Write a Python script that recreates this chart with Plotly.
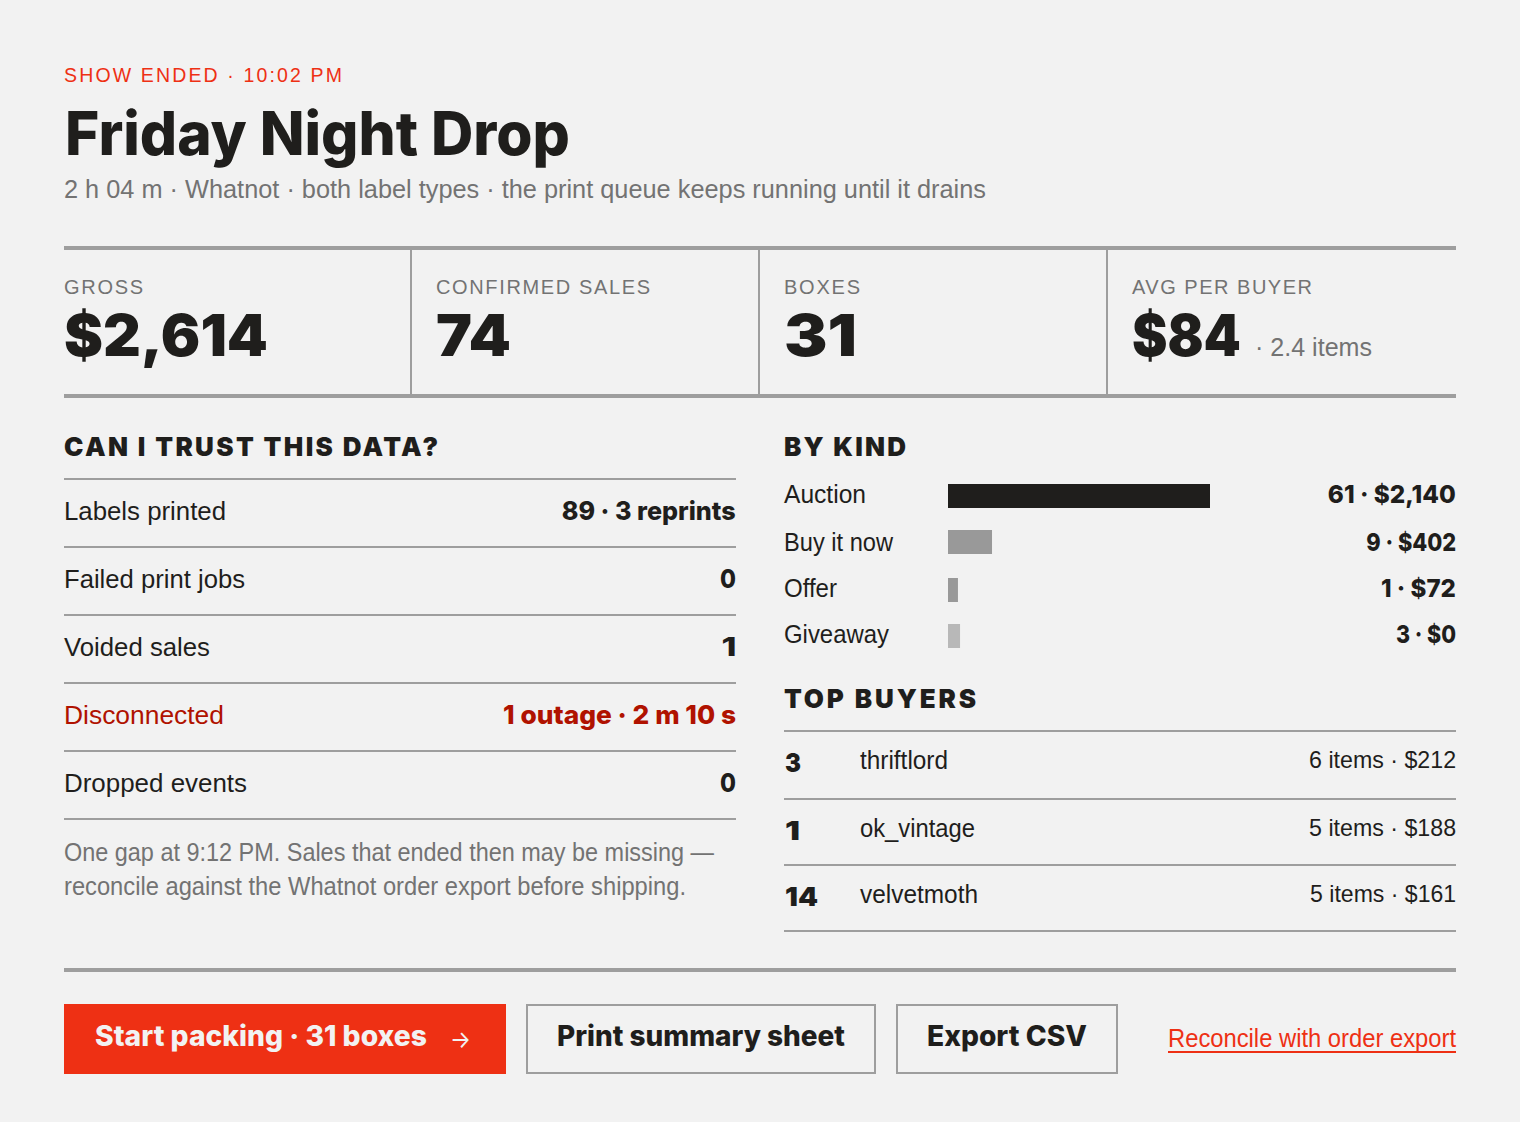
import json
import plotly.graph_objects as go

W, H = 1520, 1122
BG = '#f2f2f2'
INK = '#1f1e1c'
RED = '#ee3014'
DARK_RED = '#b01200'
GREY = '#737373'
RULE = '#9e9e9e'
BODY = 'Liberation Sans'
HEAVY = 'Inter'

# Data
kpi_labels = ['GROSS', 'CONFIRMED SALES', 'BOXES', 'AVG PER BUYER']
kpi_values = ['$2,614', '74', '31', '$84']
trust_labels = ['Labels printed', 'Failed print jobs', 'Voided sales', 'Disconnected', 'Dropped events']
trust_values = ['89 · 3 reprints', '0', '1', '1 outage · 2 m 10 s', '0']
kinds = ['Auction', 'Buy it now', 'Offer', 'Giveaway']
kind_bar_share = [100, 16.8, 3.8, 4.6]
kind_values = ['61 · $2,140', '9 · $402', '1 · $72', '3 · $0']
buyer_nums = ['3', '1', '14']
buyer_names = ['thriftlord', 'ok_vintage', 'velvetmoth']
buyer_values = ['6 items · $212', '5 items · $188', '5 items · $161']

annotations = []
shapes = []
widths = {}
tracked = []


def px_x(x):
    return x / W


def px_y(y):
    return 1 - y / H


def text(s, x, y, size, color=INK, font=BODY, weight=400, right=False, width=None, track=False):
    annotations.append(dict(
        text=s, x=px_x(x), y=px_y(y), xref='paper', yref='paper', showarrow=False,
        xanchor='right' if right else 'left', yanchor='middle', align='right' if right else 'left',
        borderpad=0, borderwidth=0,
        font=dict(family=font, size=size, color=color, weight=weight)))
    if width:
        widths[s] = width
    if track:
        tracked.append(s)


def rect(x0, y0, x1, y1, fill=RULE, line=None):
    shapes.append(dict(type='rect', xref='paper', yref='paper', layer='below',
                       x0=px_x(x0), x1=px_x(x1), y0=px_y(y0), y1=px_y(y1), fillcolor=fill,
                       line=dict(width=2 if line else 0, color=line or fill)))


# Header
text('SHOW ENDED · 10:02 PM', 64, 75, 19.5, RED, width=278, track=True)
text('Friday Night Drop', 65, 133, 60, font=HEAVY, weight=800, width=505)
text('2 h 04 m · Whatnot · both label types · the print queue keeps running until it drains', 64, 189, 26, GREY, width=922)

# KPI strip
rect(64, 246, 1456, 250)
rect(64, 394, 1456, 398)
for x in [410, 758, 1106]:
    rect(x, 250, x + 2, 394)
kpi_x = [64, 436, 784, 1132]
kpi_label_w = [79, 214, 76, 180]
kpi_value_w = [204, 75, 73, 109]
for x, lab, lw, val, vw in zip(kpi_x, kpi_labels, kpi_label_w, kpi_values, kpi_value_w):
    text(lab, x, 287, 20, GREY, width=lw, track=True)
    text(val, x, 335, 58, font=HEAVY, weight=900, width=vw)
text('· 2.4 items', 1255, 347, 26, GREY, width=117)

# Trust table
text('CAN I TRUST THIS DATA?', 64, 446.5, 26, font=HEAVY, weight=900, width=374, track=True)
for y in [478, 546, 614, 682, 750, 818]:
    rect(64, y, 736, y + 2)
trust_y = [511, 579, 647, 715, 783]
trust_label_w = [162, 181, 146, 160, 183]
trust_value_w = [174, 16, 15, 233, 16]
for i in range(5):
    c = DARK_RED if trust_labels[i] == 'Disconnected' else INK
    text(trust_labels[i], 64, trust_y[i], 26, c, width=trust_label_w[i])
    text(trust_values[i], 736, trust_y[i] - 1, 26, c, font=HEAVY, weight=800, right=True, width=trust_value_w[i])
text('One gap at 9:12 PM. Sales that ended then may be missing —', 64, 852, 25, GREY, width=650)
text('reconcile against the Whatnot order export before shipping.', 64, 886, 25, GREY, width=622)

# By kind
text('BY KIND', 784, 446.5, 26, font=HEAVY, weight=900, width=122, track=True)
kind_y = [494, 542, 588, 634]
kind_label_w = [82, 109, 53, 105]
kind_value_w = [128, 90, 75, 60]
for i in range(4):
    text(kinds[i], 784, kind_y[i], 25, width=kind_label_w[i])
    text(kind_values[i], 1456, kind_y[i], 25, font=HEAVY, weight=800, right=True, width=kind_value_w[i])

# Top buyers
text('TOP BUYERS', 784, 698.5, 26, font=HEAVY, weight=900, width=192, track=True)
for y in [730, 798, 864, 930]:
    rect(784, y, 1456, y + 2)
num_y = [762, 830, 896]
name_y = [760, 828, 894]
num_w = [16, 15, 33]
name_w = [88, 115, 118]
val_w = [147, 147, 146]
for i in range(3):
    text(buyer_nums[i], 785, num_y[i], 26, font=HEAVY, weight=900, width=num_w[i])
    text(buyer_names[i], 860, name_y[i], 25, width=name_w[i])
    text(buyer_values[i], 1456, name_y[i] - 1, 24, right=True, width=val_w[i])

# Actions
rect(64, 968, 1456, 972)
rect(64, 1004, 506, 1074, fill=RED)
rect(527, 1005, 875, 1073, fill=BG, line=RULE)
rect(897, 1005, 1117, 1073, fill=BG, line=RULE)
text('Start packing · 31 boxes', 95, 1036, 28, BG, font=HEAVY, weight=800, width=332)
text('→', 450, 1039, 24, BG, font=HEAVY, width=21)
text('Print summary sheet', 557, 1036, 28, font=HEAVY, weight=800, width=288)
text('Export CSV', 927, 1036, 28, font=HEAVY, weight=800, width=160)
text('Reconcile with order export', 1168, 1038, 26, RED, width=288)
rect(1168, 1051, 1456, 1053, fill=RED)

# Bars, on their own small axes
bar_top, bar_bottom = 472.67, 659.33
fig = go.Figure(go.Bar(
    x=kind_bar_share, y=kinds, orientation='h', hoverinfo='skip',
    offset=[-0.257, -0.271, -0.243, -0.257], width=0.514,
    marker=dict(color=[INK, '#999999', '#999999', '#b8b8b8'], line_width=0)))
fig.update_layout(
    width=W, height=H, margin=dict(l=0, r=0, t=0, b=0), autosize=False, showlegend=False,
    paper_bgcolor=BG, plot_bgcolor='rgba(0,0,0,0)',
    annotations=annotations, shapes=shapes,
    xaxis=dict(domain=[948 / W, 1210 / W], range=[0, 100], visible=False, fixedrange=True),
    yaxis=dict(domain=[px_y(bar_bottom), px_y(bar_top)], autorange='reversed', visible=False, fixedrange=True))

post = """
document.body.style.margin = '0';
var widths = %s;
var tracked = %s;
document.querySelectorAll('text.annotation-text').forEach(function (t) {
  var w = widths[t.textContent];
  if (w) {
    t.setAttribute('textLength', w);
    t.setAttribute('lengthAdjust', tracked.indexOf(t.textContent) >= 0 ? 'spacing' : 'spacingAndGlyphs');
  }
});
""" % (json.dumps(widths), json.dumps(tracked))

fig.write_html('out.html', post_script=post, config={'displayModeBar': False})
